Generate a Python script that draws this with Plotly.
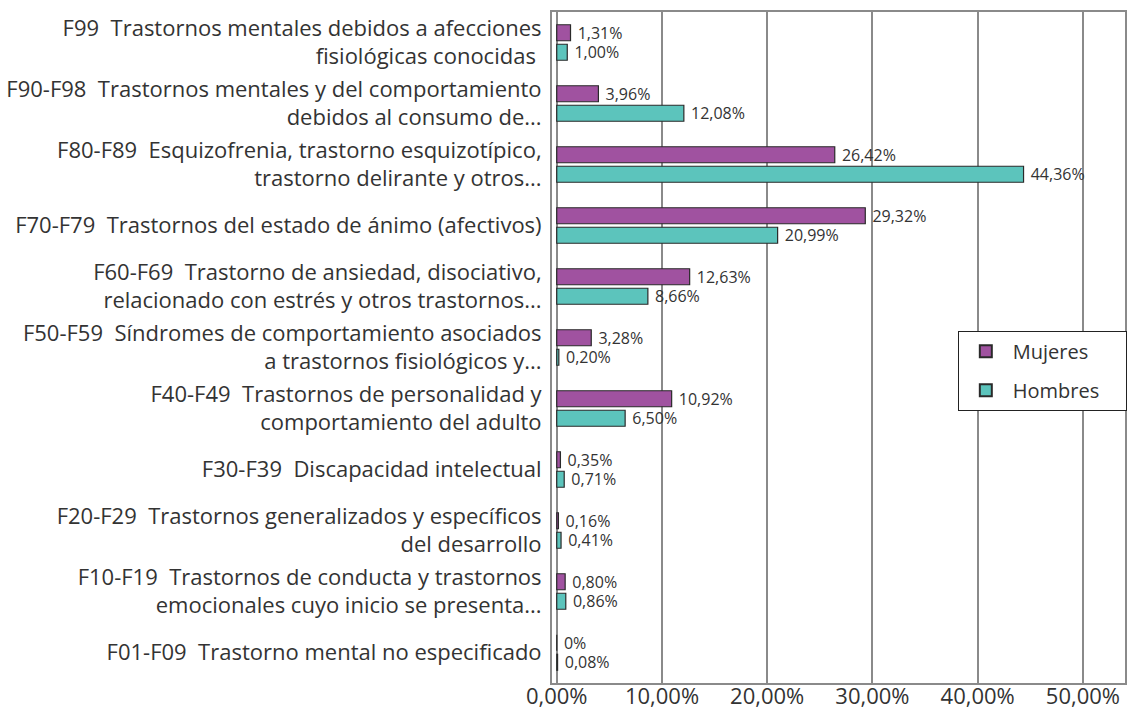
import plotly.graph_objects as go

categorias = [
    "F99  Trastornos mentales debidos a afecciones<br>fisiológicas conocidas ",
    "F90-F98  Trastornos mentales y del comportamiento<br>debidos al consumo de...",
    "F80-F89  Esquizofrenia, trastorno esquizotípico,<br>trastorno delirante y otros...",
    "F70-F79  Trastornos del estado de ánimo (afectivos)",
    "F60-F69  Trastorno de ansiedad, disociativo,<br>relacionado con estrés y otros trastornos...",
    "F50-F59  Síndromes de comportamiento asociados<br>a trastornos fisiológicos y...",
    "F40-F49  Trastornos de personalidad y<br>comportamiento del adulto",
    "F30-F39  Discapacidad intelectual",
    "F20-F29  Trastornos generalizados y específicos<br>del desarrollo",
    "F10-F19  Trastornos de conducta y trastornos<br>emocionales cuyo inicio se presenta...",
    "F01-F09  Trastorno mental no especificado",
]
mujeres = [1.31, 3.96, 26.42, 29.32, 12.63, 3.28, 10.92, 0.35, 0.16, 0.80, 0.0]
hombres = [1.00, 12.08, 44.36, 20.99, 8.66, 0.20, 6.50, 0.71, 0.41, 0.86, 0.08]
ticks = [0, 10, 20, 30, 40, 50]


def fmt(v):
    if v == 0:
        return "0%"
    return f"{v:.2f}".replace(".", ",") + "%"


pad = "\u00a0" * 4  # little extra room on the right of the legend box

fig = go.Figure()
fig.add_trace(go.Bar(
    y=categorias, x=mujeres, name="Mujeres" + pad, orientation="h", legendgroup="m",
    marker=dict(color="#a052a0", line=dict(color="#2a2a2a", width=1.2)),
    text=[" " + fmt(v) for v in mujeres], textposition="outside", cliponaxis=False,
    constraintext="none", textfont=dict(size=16, color="#333333"),
))
fig.add_trace(go.Bar(
    y=categorias, x=hombres, name="Hombres" + pad, orientation="h", legendgroup="h",
    marker=dict(color="#5cc4bc", line=dict(color="#2a2a2a", width=1.2)),
    text=[" " + fmt(v) for v in hombres], textposition="outside", cliponaxis=False,
    constraintext="none", textfont=dict(size=16, color="#333333"),
))

fig.update_layout(
    width=1130, height=711,
    margin=dict(l=552, r=4, t=12, b=28),
    paper_bgcolor="white", plot_bgcolor="white",
    font=dict(family="Open Sans, Noto Sans, sans-serif", color="#333333"),
    barmode="group", bargap=0.36, bargroupgap=0.18,
    legend=dict(
        x=0.707, y=0.525, xanchor="left", yanchor="top",
        bgcolor="white", bordercolor="#222222", borderwidth=1,
        font=dict(size=20, color="#333333"),
        tracegroupgap=10, itemsizing="constant", itemwidth=44,
    ),
    xaxis=dict(
        range=[-0.45, 54], tickvals=ticks, automargin=False,
        ticktext=[f"{t:.2f}".replace(".", ",") + "%" for t in ticks],
        tickfont=dict(size=22, color="#333333"),
        showgrid=True, gridcolor="#8a8a8a", gridwidth=2,
        showline=True, linecolor="#8a8a8a", linewidth=2, mirror=True,
        zeroline=False, ticks="", ticklabelstandoff=-7,
    ),
    yaxis=dict(
        autorange="reversed", automargin=False,
        tickfont=dict(size=22, color="#333333"),
        showline=True, linecolor="#8a8a8a", linewidth=2, mirror=True,
        ticks="", ticklabelstandoff=4,
    ),
)

fig.write_html("out.html", config={"displayModeBar": False},
               post_script="document.body.style.margin='0';")
